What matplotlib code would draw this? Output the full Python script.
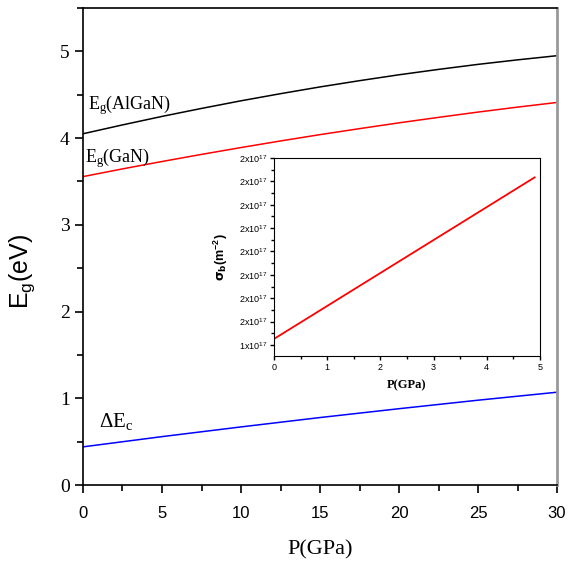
import matplotlib
matplotlib.use('Agg')
import matplotlib.pyplot as plt
from matplotlib.ticker import MultipleLocator, FixedLocator, FixedFormatter

plt.rcParams['font.family'] = 'Liberation Serif'
plt.rcParams['mathtext.default'] = 'regular'

# main panel: band gaps vs pressure
pressure = [0, 2.5, 5, 7.5, 10, 12.5, 15, 17.5, 20, 22.5, 25, 27.5, 30]
eg_algan = [4.050, 4.152, 4.250, 4.342, 4.430, 4.512, 4.590, 4.662, 4.730, 4.792, 4.850, 4.902, 4.950]
eg_gan = [3.556, 3.645, 3.730, 3.812, 3.891, 3.967, 4.040, 4.109, 4.176, 4.239, 4.300, 4.357, 4.411]
delta_ec = [0.440, 0.499, 0.558, 0.614, 0.670, 0.724, 0.778, 0.829, 0.880, 0.929, 0.978, 1.024, 1.070]

# inset: sheet density vs pressure
p_inset = [0, 1, 2, 3, 4, 4.9]
sigma_b = [1.426, 1.567, 1.708, 1.849, 1.990, 2.117]
sigma_ticks = [1.4, 1.5, 1.6, 1.7, 1.8, 1.9, 2.0, 2.1, 2.2]
sigma_labels = ['1x10$^{17}$'] + ['2x10$^{17}$'] * 8

fig = plt.figure(figsize=(5.72, 5.63), dpi=100)
ax = fig.add_axes([0.1451, 0.1385, 0.8287, 0.8473])

ax.plot(pressure, eg_algan, color='black', lw=1.1)
ax.plot(pressure, eg_gan, color='red', lw=1.1)
ax.plot(pressure, delta_ec, color='blue', lw=1.1)

ax.set_xlim(0, 30)
ax.set_ylim(0, 5.5)
ax.xaxis.set_major_locator(MultipleLocator(5))
ax.xaxis.set_minor_locator(MultipleLocator(2.5))
ax.yaxis.set_major_locator(MultipleLocator(1))
ax.yaxis.set_minor_locator(MultipleLocator(0.5))
ax.tick_params(which='both', direction='out', width=1.2, top=False, right=False)
ax.tick_params(which='major', length=6)
ax.tick_params(which='minor', length=4)
ax.tick_params(axis='y', labelsize=14)
ax.tick_params(axis='x', pad=9)
for lab in ax.get_xticklabels():
    lab.set_family('Liberation Sans')
    lab.set_fontsize(12)
for s in ax.spines.values():
    s.set_linewidth(1.2)
ax.spines['right'].set_color('#999999')
ax.spines['right'].set_linewidth(2)

ax.set_xlabel('P(GPa)', fontsize=16, labelpad=14)
ax.set_ylabel('E$_g$(eV)', fontsize=18, family='Liberation Sans')
ax.yaxis.set_label_coords(-0.097, 0.447)

ax.text(0.32, 4.33, 'E$_g$(AlGaN)', fontsize=13)
ax.text(0.13, 3.72, 'E$_g$(GaN)', fontsize=13)
ax.text(1.0, 0.67, '$\\Delta$E$_c$', fontsize=15)

# inset
ins = fig.add_axes([0.479, 0.3677, 0.465, 0.3517])
ins.plot(p_inset, sigma_b, color='red', lw=1.3)
ins.set_xlim(0, 5)
ins.set_ylim(1.353, 2.2)
ins.xaxis.set_major_locator(MultipleLocator(1))
ins.xaxis.set_minor_locator(MultipleLocator(0.5))
ins.yaxis.set_major_locator(FixedLocator(sigma_ticks))
ins.yaxis.set_major_formatter(FixedFormatter(sigma_labels))
ins.yaxis.set_minor_locator(MultipleLocator(0.05))
ins.tick_params(which='both', direction='out', width=1, top=False, right=False)
ins.tick_params(which='major', length=3, labelsize=6.5, pad=2)
ins.tick_params(which='minor', length=2)
for lab in ins.get_xticklabels() + ins.get_yticklabels():
    lab.set_family('Liberation Sans')
ins.set_xlabel('P(GPa)', fontsize=9, fontweight='bold', labelpad=5)
ins.set_ylabel('$\\mathbf{\\sigma_b}$(m$^{-2}$)', fontsize=9, fontweight='bold',
               family='Liberation Sans', labelpad=6)

fig.savefig('out.png', dpi=100)
